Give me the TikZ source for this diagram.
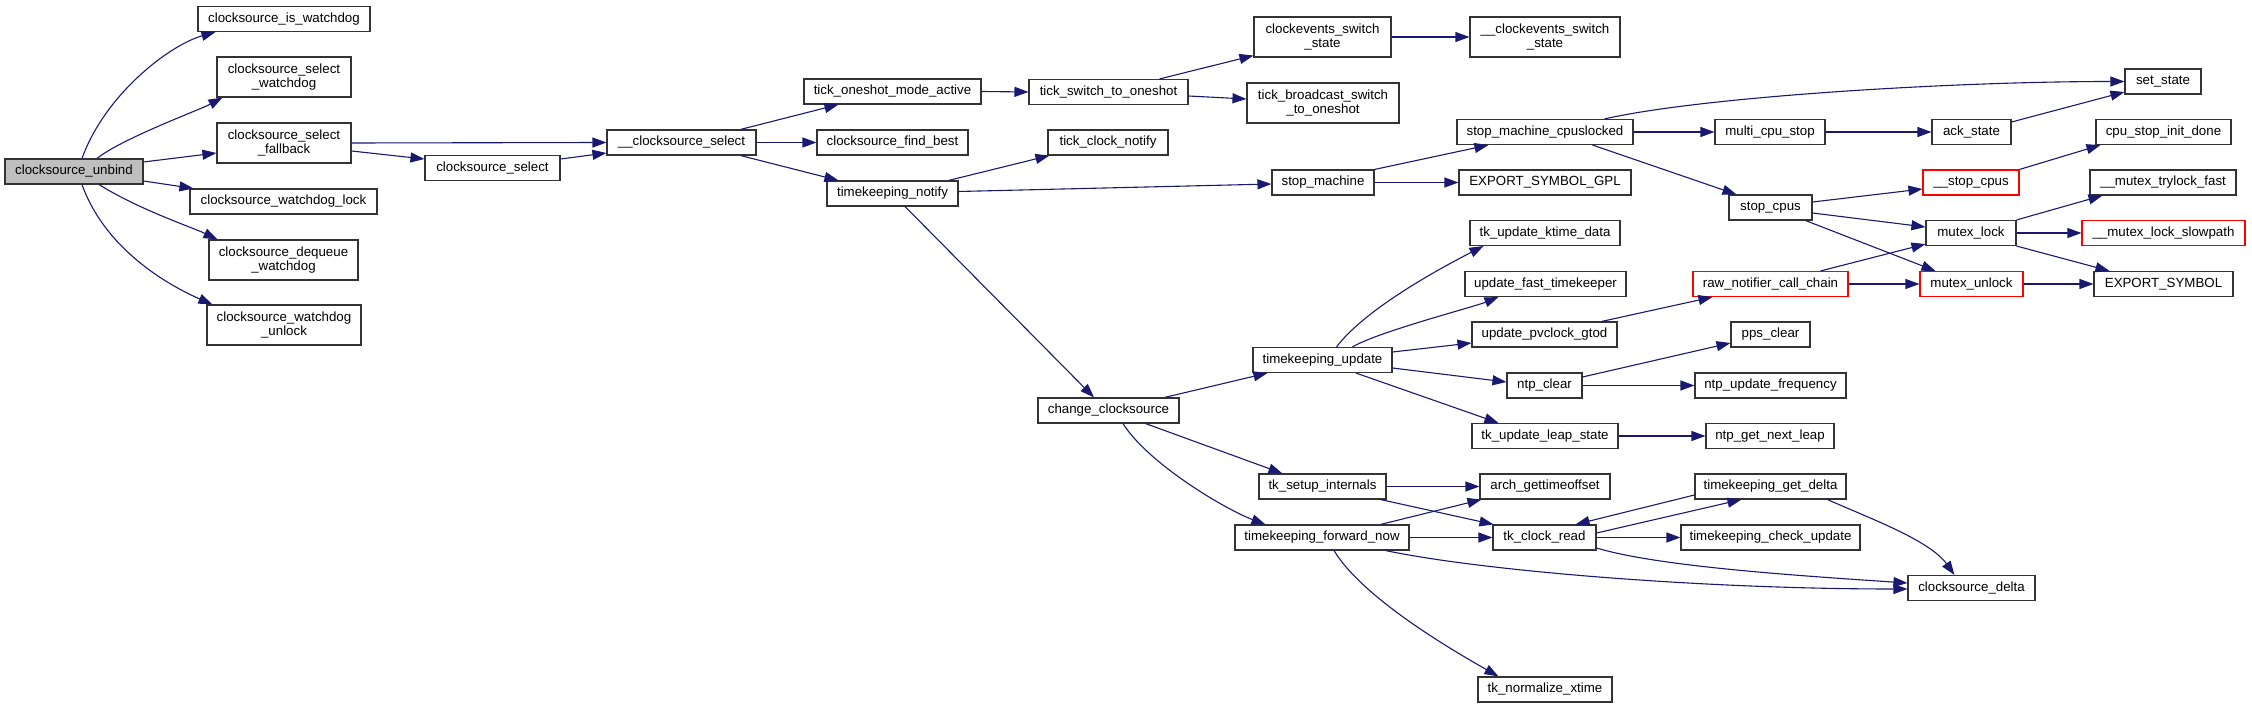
\documentclass[tikz,border=0pt]{standalone}
\usepackage{fontspec}
\setmainfont{Liberation Sans}
\usepackage{xcolor}
\usetikzlibrary{arrows.meta, positioning, calc}
\definecolor{cgBlue} {RGB}{25,25,112}
\definecolor{cgRed}  {RGB}{255,0,0}
\definecolor{cgGray} {RGB}{191,191,191}
\newcommand{\fnfont}{\fontsize{13.3}{14.5}\selectfont}
\tikzset{
  fn/.style={draw=black!80, line width=1.1pt, fill=white, minimum height=25pt, inner sep=2pt, font=\fnfont, align=center},
  fntwo/.style={fn, minimum height=40pt},
  fnred/.style={fn, draw=cgRed},
  call/.style={draw=cgBlue, line width=1.1pt, -{Triangle[length=14pt, width=10pt]}}
}
\begin{document}
\begin{tikzpicture}[x=1pt, y=-1pt]
        \useasboundingbox (0,0) rectangle (2252,708);
        \node[fn, fill=cgGray, minimum width=138pt] (unbind) at (74,171.5) {clocksource\_unbind};
        \node[fn, minimum width=172pt] (iswd) at (284,19) {clocksource\_is\_watchdog};
        \node[fntwo, minimum width=134pt] (selwd) at (284,77) {clocksource\_select\\\_watchdog};
        \node[fntwo, minimum width=134pt] (selfb) at (284,143) {clocksource\_select\\\_fallback};
        \node[fn, minimum width=187pt] (wdlock) at (283.5,201.5) {clocksource\_watchdog\_lock};
        \node[fntwo, minimum width=149pt] (dqwd) at (283.5,260) {clocksource\_dequeue\\\_watchdog};
        \node[fntwo, minimum width=154pt] (wdunlock) at (284,325) {clocksource\_watchdog\\\_unlock};
        \node[fn, minimum width=135pt] (cssel) at (492.5,168) {clocksource\_select};
        \node[fn, minimum width=149pt] (ucssel) at (681.5,142.5) {\_\_clocksource\_select};
        \node[fn, minimum width=177pt] (oneshotact) at (892.5,91.5) {tick\_oneshot\_mode\_active};
        \node[fn, minimum width=151pt] (findbest) at (892.5,142.5) {clocksource\_find\_best};
        \node[fn, minimum width=131pt] (tknotify) at (892.5,193.5) {timekeeping\_notify};
        \node[fn, minimum width=159pt] (switchos) at (1108.5,92) {tick\_switch\_to\_oneshot};
        \node[fn, minimum width=120pt] (clknotify) at (1108,142.5) {tick\_clock\_notify};
        \node[fn, minimum width=141pt] (chgcs) at (1108.5,410.5) {change\_clocksource};
        \node[fntwo, minimum width=137pt] (cesw) at (1322.5,37) {clockevents\_switch\\\_state};
        \node[fntwo, minimum width=152pt] (bcastos) at (1323,103) {tick\_broadcast\_switch\\\_to\_oneshot};
        \node[fn, minimum width=102pt] (stopm) at (1323,182.5) {stop\_machine};
        \node[fn, minimum width=139pt] (tkupd) at (1322.5,360) {timekeeping\_update};
        \node[fn, minimum width=127pt] (tksetup) at (1322.5,486.5) {tk\_setup\_internals};
        \node[fn, minimum width=174pt] (fwdnow) at (1322,537.5) {timekeeping\_forward\_now};
        \node[fntwo, minimum width=150pt] (ucesw) at (1545,37) {\_\_clockevents\_switch\\\_state};
        \node[fn, minimum width=176pt] (smcpu) at (1545,132) {stop\_machine\_cpuslocked};
        \node[fn, minimum width=172pt] (expgpl) at (1545,182.5) {EXPORT\_SYMBOL\_GPL};
        \node[fn, minimum width=150pt] (ktime) at (1545,233) {tk\_update\_ktime\_data};
        \node[fn, minimum width=161pt] (fasttk) at (1545.5,284) {update\_fast\_timekeeper};
        \node[fn, minimum width=145pt] (pvclock) at (1544.5,334.5) {update\_pvclock\_gtod};
        \node[fn, minimum width=75pt] (ntpclr) at (1544.5,385.5) {ntp\_clear};
        \node[fn, minimum width=146pt] (leap) at (1545,436) {tk\_update\_leap\_state};
        \node[fn, minimum width=130pt] (archoff) at (1545,486.5) {arch\_gettimeoffset};
        \node[fn, minimum width=103pt] (clkread) at (1544.5,537.5) {tk\_clock\_read};
        \node[fn, minimum width=134pt] (normxt) at (1545,689.5) {tk\_normalize\_xtime};
        \node[fn, minimum width=110pt] (multistop) at (1770,132) {multi\_cpu\_stop};
        \node[fn, minimum width=83pt] (stopcpus) at (1770.5,207.5) {stop\_cpus};
        \node[fnred, minimum width=155pt] (rawnot) at (1770.5,284) {raw\_notifier\_call\_chain};
        \node[fn, minimum width=79pt] (ppsclr) at (1770.5,334.5) {pps\_clear};
        \node[fn, minimum width=151pt] (ntpfreq) at (1770.5,385.5) {ntp\_update\_frequency};
        \node[fn, minimum width=128pt] (nextleap) at (1770,436) {ntp\_get\_next\_leap};
        \node[fn, minimum width=151pt] (getdelta) at (1770.5,486.5) {timekeeping\_get\_delta};
        \node[fn, minimum width=179pt] (chkupd) at (1770.5,537.5) {timekeeping\_check\_update};
        \node[fn, minimum width=79pt] (ackst) at (1971.5,132) {ack\_state};
        \node[fnred, minimum width=96pt] (ustopcpus) at (1971,182.5) {\_\_stop\_cpus};
        \node[fn, minimum width=90pt] (mlock) at (1971,233) {mutex\_lock};
        \node[fnred, minimum width=103pt] (munlock) at (1971.5,284) {mutex\_unlock};
        \node[fn, minimum width=127pt] (csdelta) at (1971.5,588) {clocksource\_delta};
        \node[fn, minimum width=76pt] (setst) at (2163,81.5) {set\_state};
        \node[fn, minimum width=135pt] (initdone) at (2163.5,132) {cpu\_stop\_init\_done};
        \node[fn, minimum width=146pt] (trylock) at (2163,182.5) {\_\_mutex\_trylock\_fast};
        \node[fnred, minimum width=163pt] (slowpath) at (2163.5,233) {\_\_mutex\_lock\_slowpath};
        \node[fn, minimum width=139pt] (expsym) at (2163.5,284) {EXPORT\_SYMBOL};

        \draw[call] ([xshift=8pt]unbind.north) .. controls +(23,-64) and +(-46,13) .. ([xshift=18pt]iswd.south west);
        \draw[call] ([xshift=23pt]unbind.north) .. controls +(25,-20) and +(-22,12) .. ([xshift=6pt]selwd.south west);
        \draw[call] ([yshift=9.5pt]unbind.east) -- ([yshift=-10pt]selfb.west);
        \draw[call] ([yshift=-9.5pt]unbind.east) -- ([xshift=4pt]wdlock.north west);
        \draw[call] ([xshift=25pt]unbind.south) .. controls +(40,25) and +(-25,-12) .. ([xshift=9pt]dqwd.north west);
        \draw[call] ([xshift=8pt]unbind.south) .. controls +(23,64) and +(-46,-20) .. ([xshift=6pt]wdunlock.north west);
        \draw[call] (selfb.east) -- (ucssel.west);
        \draw[call] ([yshift=-8pt]selfb.east) -- ([yshift=9pt]cssel.west);
        \draw[call] ([yshift=9pt]cssel.east) -- ([yshift=-10.5pt]ucssel.west);
        \draw[call] ([xshift=-16pt]ucssel.north east) -- ([xshift=35pt]oneshotact.south west);
        \draw[call] (ucssel.east) -- (findbest.west);
        \draw[call] ([xshift=-16pt]ucssel.south east) -- ([xshift=12pt]tknotify.north west);
        \draw[call] (oneshotact.east) -- (switchos.west);
        \draw[call] ([xshift=-29pt]switchos.north east) -- ([yshift=2pt]cesw.south west);
        \draw[call] ([yshift=-4pt]switchos.east) -- ([yshift=4pt]bcastos.west);
        \draw[call] (cesw.east) -- (ucesw.west);
        \draw[call] ([xshift=-10pt]tknotify.north east) -- ([xshift=2pt]clknotify.south west);
        \draw[call] ([yshift=2pt]tknotify.east) -- ([yshift=-1.5pt]stopm.west);
        \draw[call] ([xshift=12.5pt]tknotify.south) -- ([xshift=-14.5pt]chgcs.north);
        \draw[call] (stopm.north east) -- ([xshift=32pt]smcpu.south west);
        \draw[call] (stopm.east) -- (expgpl.west);
        \draw[call] ([xshift=-29pt]smcpu.north east) .. controls +(96,-22) and +(-175,0) .. (setst.west);
        \draw[call] (smcpu.east) -- (multistop.west);
        \draw[call] (multistop.east) -- (ackst.west);
        \draw[call] ([yshift=10pt]ackst.east) -- ([yshift=-10.5pt]setst.west);
        \draw[call] ([xshift=-41pt]smcpu.south east) -- ([xshift=8pt]stopcpus.north west);
        \draw[call] ([yshift=5.5pt]stopcpus.east) -- ([yshift=-6.5pt]ustopcpus.west);
        \draw[call] ([yshift=-5.5pt]stopcpus.east) -- ([yshift=6pt]mlock.west);
        \draw[call] ([xshift=-7pt]stopcpus.south east) -- ([xshift=16pt]munlock.north west);
        \draw[call] (ustopcpus.north east) -- ([xshift=5pt]initdone.south west);
        \draw[call] (mlock.north east) -- ([xshift=13pt]trylock.south west);
        \draw[call] (mlock.east) -- (slowpath.west);
        \draw[call] (mlock.south east) -- ([xshift=16pt]expsym.north west);
        \draw[call] ([xshift=-28pt]rawnot.north east) -- ([yshift=2pt]mlock.south west);
        \draw[call] (rawnot.east) -- (munlock.west);
        \draw[call] (munlock.east) -- (expsym.west);
        \draw[call] ([xshift=-16pt]pvclock.north east) -- ([xshift=20pt]rawnot.south west);
        \draw[call] ([xshift=14pt]tkupd.north) .. controls +(30,-40) and +(-35,18) .. ([xshift=14pt]ktime.south west);
        \draw[call] ([xshift=30pt]tkupd.north) .. controls +(25,-15) and +(-25,10) .. ([xshift=34pt]fasttk.south west);
        \draw[call] ([yshift=8pt]tkupd.east) -- ([yshift=-8.5pt]pvclock.west);
        \draw[call] ([yshift=-8pt]tkupd.east) -- ([yshift=3.5pt]ntpclr.west);
        \draw[call] ([xshift=33.5pt]tkupd.south) -- ([xshift=27pt]leap.north west);
        \draw[call] ([xshift=-15pt]chgcs.north east) -- ([xshift=15pt]tkupd.south west);
        \draw[call] ([xshift=-34pt]chgcs.south east) -- ([xshift=24pt]tksetup.north west);
        \draw[call] ([xshift=14.5pt]chgcs.south) .. controls +(25,40) and +(-40,-15) .. ([xshift=31pt]fwdnow.north west);
        \draw[call] (tksetup.east) -- (archoff.west);
        \draw[call] ([xshift=-6pt]tksetup.south east) -- ([xshift=1pt]clkread.north west);
        \draw[call] ([xshift=-29pt]fwdnow.north east) -- ([xshift=2pt]archoff.south west);
        \draw[call] (fwdnow.east) -- (clkread.west);
        \draw[call] ([xshift=-24pt]fwdnow.south east) .. controls +(95,20) and +(-208,0) .. ([yshift=-1pt]csdelta.west);
        \draw[call] ([xshift=12pt]fwdnow.south) .. controls +(30,50) and +(-35,-20) .. ([xshift=21pt]normxt.north west);
        \draw[call] ([yshift=8.5pt]ntpclr.east) -- ([yshift=-8.5pt]ppsclr.west);
        \draw[call] (ntpclr.east) -- (ntpfreq.west);
        \draw[call] (leap.east) -- (nextleap.west);
        \draw[call] ([yshift=4.5pt]clkread.east) -- ([xshift=47pt]getdelta.south west);
        \draw[call] ([yshift=-8.5pt]getdelta.west) -- ([xshift=-21pt]clkread.north east);
        \draw[call] (clkread.east) -- (chkupd.west);
        \draw[call] ([yshift=-10.5pt]clkread.east) .. controls +(60,18) and +(-120,-8) .. ([yshift=5pt]csdelta.west);
        \draw[call] ([xshift=-19pt]getdelta.south east) .. controls +(40,18) and +(-25,-35) .. ([xshift=47pt]csdelta.north west);
    \end{tikzpicture}
\end{document}
